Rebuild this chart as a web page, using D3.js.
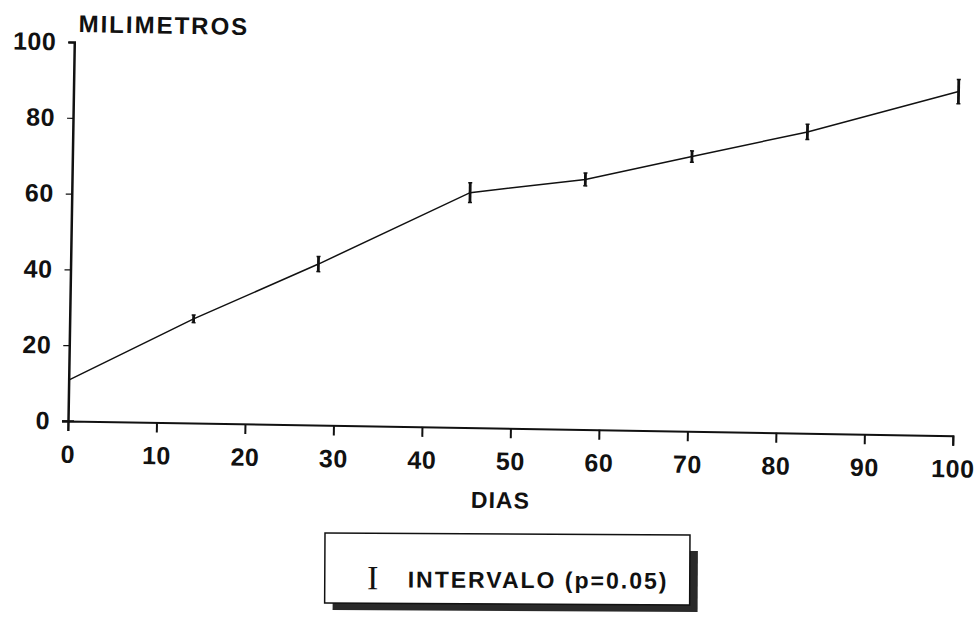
<!DOCTYPE html>
<meta charset="utf-8">
<script src="https://d3js.org/d3.v7.min.js"></script>
<style>
  body { margin: 0; background: #fff; }
  text { font-family: "Liberation Sans", Arial, sans-serif; font-weight: bold; fill: #111; }
</style>
<div id="my_dataviz"></div>
<script>

// data
var dias = [0, 14, 28, 45, 58, 70, 83, 100];
var milimetros = [10.8, 27.5, 42.5, 62, 66, 72.5, 79.5, 90.8];
var intervalo = [0, 1, 2, 2.6, 1.7, 1.5, 2, 3.2];
var xTicks = [0, 10, 20, 30, 40, 50, 60, 70, 80, 90, 100];
var yTicks = [0, 20, 40, 60, 80, 100];

var margin = {top: 42, left: 68},
    width = 885,
    height = 379;

var svg = d3.select("#my_dataviz")
  .append("svg")
    .attr("width", 976)
    .attr("height", 618);

// the scan is turned a little, so the whole plot is too
var g = svg.append("g")
    .attr("transform", "translate(" + margin.left + "," + margin.top + ") rotate(0.95, 0, " + height + ")");

var x = d3.scaleLinear().domain([0, 100]).range([0, width]);
var y = d3.scaleLinear().domain([0, 100]).range([height, 0]);

// X axis
var xAxis = g.append("g")
    .attr("transform", "translate(0," + height + ")")
    .call(d3.axisBottom(x).tickValues(xTicks).tickSize(10).tickPadding(14));
xAxis.select(".domain").attr("stroke", "#111").attr("stroke-width", 2);
xAxis.selectAll(".tick line").attr("stroke", "#111").attr("stroke-width", 2);
xAxis.selectAll("text").attr("font-size", 25).attr("letter-spacing", 0.5).attr("fill", "#111");

// Y axis
var yAxis = g.append("g")
    .call(d3.axisLeft(y).tickValues(yTicks).tickSize(6).tickPadding(12));
yAxis.select(".domain").attr("stroke", "#111").attr("stroke-width", 2.5);
yAxis.selectAll(".tick line").attr("stroke", "#111").attr("stroke-width", 1.2);
yAxis.selectAll("text").attr("font-size", 25).attr("letter-spacing", 0.5).attr("fill", "#111");
// little cross at zero
g.append("line")
    .attr("x1", -6).attr("x2", 6)
    .attr("y1", y(0)).attr("y2", y(0))
    .attr("stroke", "#111").attr("stroke-width", 1.5);

g.append("text")
    .attr("x", 4)
    .attr("y", -10)
    .attr("font-size", 24)
    .attr("letter-spacing", 2)
    .text("MILIMETROS");

g.append("text")
    .attr("x", x(49))
    .attr("y", height + 80)
    .attr("text-anchor", "middle")
    .attr("font-size", 23)
    .attr("letter-spacing", 1)
    .text("DIAS");

// line
var pts = dias.map(function(d, i) { return {x: d, y: milimetros[i], e: intervalo[i]}; });
g.append("path")
    .datum(pts)
    .attr("fill", "none")
    .attr("stroke", "#111")
    .attr("stroke-width", 1.5)
    .attr("d", d3.line().x(function(d) { return x(d.x); }).y(function(d) { return y(d.y); }));

// error bars
var bars = g.append("g").selectAll("g")
    .data(pts.filter(function(d) { return d.e > 0; }))
    .enter().append("g");
bars.append("line")
    .attr("x1", function(d) { return x(d.x); })
    .attr("x2", function(d) { return x(d.x); })
    .attr("y1", function(d) { return y(d.y + d.e); })
    .attr("y2", function(d) { return y(d.y - d.e); })
    .attr("stroke", "#111")
    .attr("stroke-width", 2.8);
bars.append("line")
    .attr("x1", function(d) { return x(d.x) - 2; })
    .attr("x2", function(d) { return x(d.x) + 2; })
    .attr("y1", function(d) { return y(d.y + d.e); })
    .attr("y2", function(d) { return y(d.y + d.e); })
    .attr("stroke", "#111").attr("stroke-width", 1.5);
bars.append("line")
    .attr("x1", function(d) { return x(d.x) - 2; })
    .attr("x2", function(d) { return x(d.x) + 2; })
    .attr("y1", function(d) { return y(d.y - d.e); })
    .attr("y2", function(d) { return y(d.y - d.e); })
    .attr("stroke", "#111").attr("stroke-width", 1.5);

// legend box with its shadow
var lg = svg.append("g").attr("transform", "translate(325,533) rotate(0.3)");
lg.append("rect")
    .attr("x", 8).attr("y", 16)
    .attr("width", 365).attr("height", 61)
    .attr("fill", "#2a2a2a");
lg.append("rect")
    .attr("x", 0).attr("y", 0)
    .attr("width", 365).attr("height", 70)
    .attr("fill", "#fff")
    .attr("stroke", "#111")
    .attr("stroke-width", 1.5);
lg.append("text")
    .attr("x", 48).attr("y", 56)
    .attr("text-anchor", "middle")
    .style("font-family", "'Liberation Serif', serif")
    .style("font-weight", "normal")
    .attr("font-size", 34)
    .text("I");
lg.append("text")
    .attr("x", 83).attr("y", 54)
    .attr("font-size", 23)
    .attr("letter-spacing", 2)
    .text("INTERVALO (p=0.05)");

</script>
